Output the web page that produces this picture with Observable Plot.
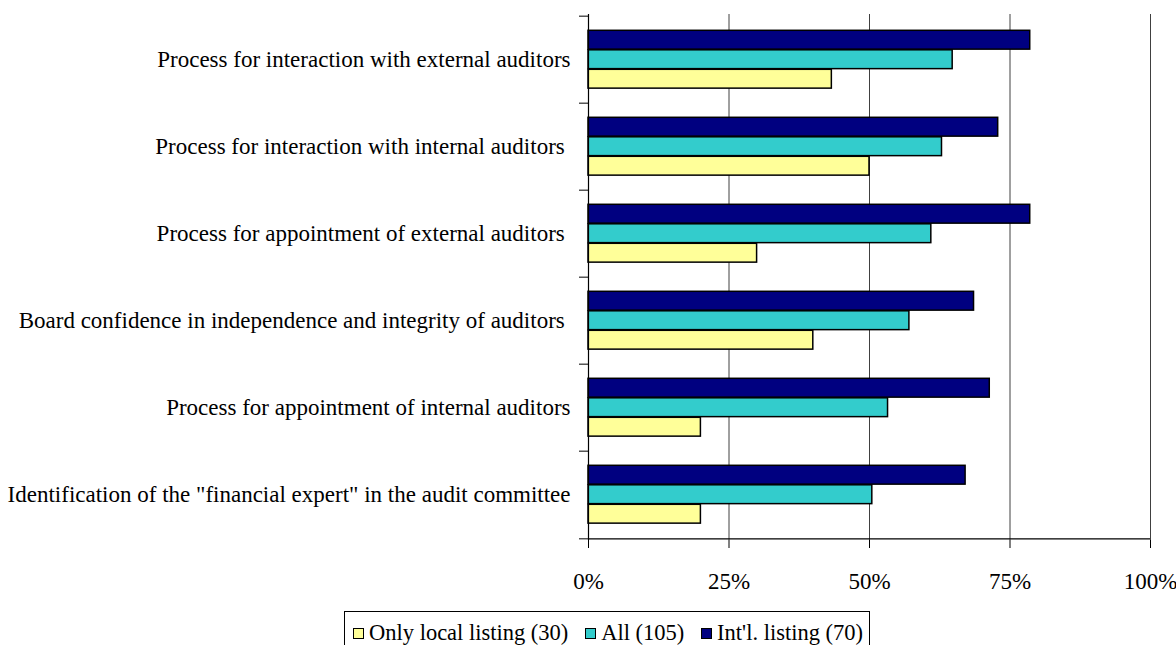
<!DOCTYPE html>
<html>
<head>
<meta charset="utf-8">
<script src="https://cdn.jsdelivr.net/npm/d3@7"></script>
<script src="https://cdn.jsdelivr.net/npm/@observablehq/plot@0.6"></script>
<style>
  html, body { margin: 0; padding: 0; background: #fff; }
  #wrap { position: relative; width: 1176px; height: 645px; overflow: hidden; font-family: "Liberation Serif", "Times New Roman", Times, serif; }
  svg text { white-space: pre; }
  #legend { position: absolute; left: 344px; top: 611px; width: 524px; height: 50px; border: 1px solid #000; box-sizing: content-box; font-size: 22.5px; color: #000; }
  #legend .items { display: flex; align-items: center; justify-content: space-between; margin-top: 8px; margin-left: 8px; width: 510px; white-space: pre; }
  #legend .sw { display: inline-block; width: 9px; height: 9px; border: 1px solid #000; margin-right: 5px; }
  #legend .it { display: flex; align-items: center; }
</style>
</head>
<body>
<div id="wrap"><div id="chart"></div><div id="legend"><div class="items"></div></div></div>
<script>
const categories = [
  "Process for interaction with external auditors",
  "Process for interaction with internal auditors ",
  "Process for appointment of external auditors ",
  "Board confidence in independence and integrity of auditors ",
  "Process for appointment of internal auditors",
  "Identification of the \"financial expert\" in the audit committee"
];
const seriesNames = ["Int'l. listing (70)", "All (105)", "Only local listing (30)"];
const seriesColors = ["#000080", "#33CCCC", "#FFFF99"];
const intlValues  = [0.786, 0.729, 0.786, 0.686, 0.714, 0.671];
const allValues   = [0.648, 0.629, 0.610, 0.571, 0.533, 0.505];
const localValues = [0.433, 0.500, 0.300, 0.400, 0.200, 0.200];
const xTicks = [0, 0.25, 0.5, 0.75, 1];
const legendOrder = ["Only local listing (30)", "All (105)", "Int'l. listing (70)"];

const seriesValues = [intlValues, allValues, localValues];
const rows = [];
seriesNames.forEach((s, si) => categories.forEach((c, ci) => rows.push({category: c, series: s, value: seriesValues[si][ci]})));

const W = 1176, H = 600, mTop = 14, mBottom = 60, mLeft = 588, mRight = 26;
const bw = (H - mTop - mBottom) / categories.length;
const barH = 19.5, gapTop = 14.3;

const barMarks = seriesNames.map((s, si) => Plot.barX(rows.filter(d => d.series === s), {
  x: "value", y: "category",
  fill: seriesColors[si], stroke: "#000", strokeWidth: 1.5,
  insetTop: gapTop + si * barH,
  insetBottom: bw - gapTop - (si + 1) * barH
})).reverse();

const chart = Plot.plot({
  width: W, height: H,
  marginTop: mTop, marginBottom: mBottom, marginLeft: mLeft, marginRight: mRight,
  style: {fontFamily: "'Liberation Serif', 'Times New Roman', Times, serif", fontSize: "23px", background: "#fff", color: "#000", overflow: "visible"},
  x: {domain: [0, 1]},
  y: {domain: categories, paddingInner: 0, paddingOuter: 0},
  marks: [
    Plot.gridX(xTicks.slice(1), {stroke: "#000", strokeOpacity: 0.75, strokeWidth: 1}),
    ...barMarks,
    Plot.ruleX([0], {stroke: "#000", strokeWidth: 1.2}),
    Plot.ruleY(categories.slice(-1), {y: d => d, x1: 0, x2: 1, dy: bw / 2, stroke: "#000", strokeWidth: 1.2}),
    Plot.axisX(xTicks, {tickFormat: d3.format(".0%"), tickSize: 8, tickPadding: 24, label: null, stroke: "#000"}),
    Plot.axisY({tickSize: 0, tickPadding: 18, label: null}),
    Plot.axisY(categories, {tickSize: 9, tickFormat: () => "", dy: -bw / 2, label: null}),
    Plot.axisY(categories.slice(-1), {tickSize: 9, tickFormat: () => "", dy: bw / 2, label: null})
  ]
});
document.getElementById("chart").appendChild(chart);

const items = d3.select("#legend .items");
legendOrder.forEach(name => {
  const it = items.append("div").attr("class", "it");
  it.append("span").attr("class", "sw").style("background", seriesColors[seriesNames.indexOf(name)]);
  it.append("span").text(name);
});
</script>
</body>
</html>
